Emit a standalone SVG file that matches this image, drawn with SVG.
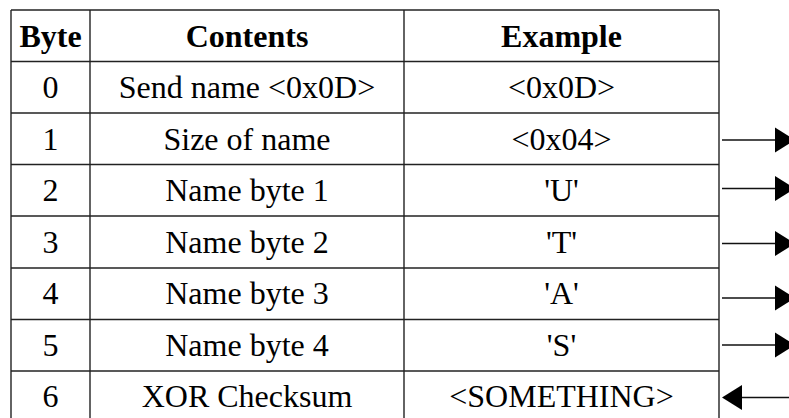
<svg xmlns="http://www.w3.org/2000/svg" width="789" height="418" viewBox="0 0 789 418">
<style>
.grid{stroke:#222;stroke-width:1.4;fill:none}
text{font-family:"Liberation Serif","Times New Roman",serif;font-size:32px;fill:#000;text-anchor:middle}
.h{font-weight:bold}
.conn line{stroke:#111;stroke-width:1.4}
.conn polygon{fill:#000}
</style>
<rect width="789" height="418" fill="#fff"/>
<g id="table-grid" class="grid">
<line x1="11" y1="10" x2="719" y2="10"/>
<line x1="11" y1="61.5" x2="719" y2="61.5"/>
<line x1="11" y1="113" x2="719" y2="113"/>
<line x1="11" y1="164.5" x2="719" y2="164.5"/>
<line x1="11" y1="216" x2="719" y2="216"/>
<line x1="11" y1="268" x2="719" y2="268"/>
<line x1="11" y1="319.5" x2="719" y2="319.5"/>
<line x1="11" y1="371" x2="719" y2="371"/>
<line x1="11" y1="10" x2="11" y2="420"/>
<line x1="90" y1="10" x2="90" y2="420"/>
<line x1="404" y1="10" x2="404" y2="420"/>
<line x1="719" y1="10" x2="719" y2="420"/>
</g>
<g id="header">
<text class="h" x="50.5" y="47">Byte</text>
<text class="h" x="247" y="47">Contents</text>
<text class="h" x="561.5" y="47">Example</text>
</g>
<g id="row0">
<text x="50.5" y="98">0</text>
<text x="247" y="98">Send name &lt;0x0D&gt;</text>
<text x="561.5" y="98">&lt;0x0D&gt;</text>
</g>
<g id="row1">
<text x="50.5" y="149.5">1</text>
<text x="247" y="149.5">Size of name</text>
<text x="561.5" y="149.5">&lt;0x04&gt;</text>
</g>
<g id="row2">
<text x="50.5" y="201">2</text>
<text x="247" y="201">Name byte 1</text>
<text x="561.5" y="201">'U'</text>
</g>
<g id="row3">
<text x="50.5" y="252.5">3</text>
<text x="247" y="252.5">Name byte 2</text>
<text x="561.5" y="252.5">'T'</text>
</g>
<g id="row4">
<text x="50.5" y="304">4</text>
<text x="247" y="304">Name byte 3</text>
<text x="561.5" y="304">'A'</text>
</g>
<g id="row5">
<text x="50.5" y="355.5">5</text>
<text x="247" y="355.5">Name byte 4</text>
<text x="561.5" y="355.5">'S'</text>
</g>
<g id="row6">
<text x="50.5" y="407">6</text>
<text x="247" y="407">XOR Checksum</text>
<text x="561.5" y="407">&lt;SOMETHING&gt;</text>
</g>
<g id="connectors" class="conn">
<line x1="722" y1="140" x2="776" y2="140"/><polygon points="775,127.5 795,140 775,152.5"/>
<line x1="722" y1="188.5" x2="776" y2="188.5"/><polygon points="775,176 795,188.5 775,201"/>
<line x1="722" y1="243.5" x2="776" y2="243.5"/><polygon points="775,231 795,243.5 775,256"/>
<line x1="722" y1="298" x2="776" y2="298"/><polygon points="775,285.5 795,298 775,310.5"/>
<line x1="722" y1="345" x2="776" y2="345"/><polygon points="775,332.5 795,345 775,357.5"/>
<line x1="741" y1="397.5" x2="789" y2="397.5"/><polygon points="742,385 722,397.5 742,410"/>
</g>
</svg>
